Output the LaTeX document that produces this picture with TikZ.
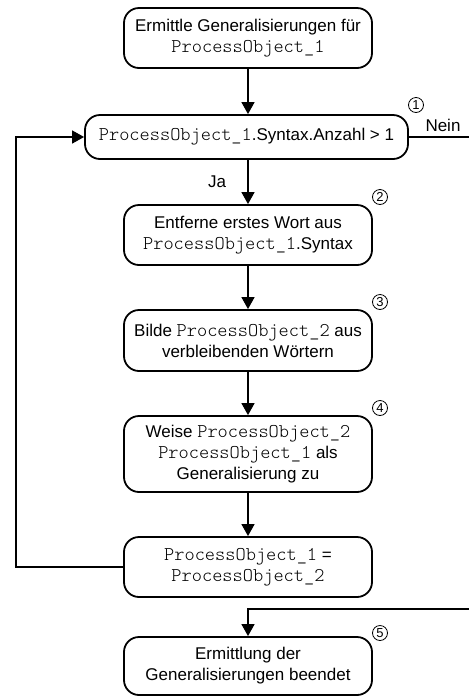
\documentclass[tikz,border=0pt]{standalone}
\usepackage{fontspec}
\setmainfont{Liberation Sans}
% thin serif monospace for the identifiers, widened to Courier's 0.6em advance
\setmonofont[Scale=1.143]{Latin Modern Mono Light}
\usetikzlibrary{arrows.meta}

\tikzset{
  stepbox/.style={draw, line width=1.8pt, rounded corners=15pt, align=center,
    minimum width=248pt, inner sep=0pt, font=\fontsize{17}{21}\selectfont},
  flow/.style={line width=1.3pt, -{Triangle[length=12pt,width=13pt]}},
  plain/.style={line width=1.3pt},
  marker/.style={draw, circle, line width=0.8pt, inner sep=0pt, minimum size=15pt,
    font=\fontsize{13}{13}\selectfont},
  lbl/.style={font=\fontsize{17}{21}\selectfont}
}

\begin{document}
\begin{tikzpicture}[x=1pt,y=-1pt]
\useasboundingbox (0,0) rectangle (469,697);

% process boxes
\node[stepbox, minimum height=60pt] (start) at (248,38)
  {Ermittle Generalisierungen für\\\texttt{ProcessObject\_1}};
\node[stepbox, minimum width=323pt, minimum height=44pt] (check) at (246.5,137)
  {\texttt{ProcessObject\_1}.Syntax.Anzahl > 1};
\node[stepbox, minimum height=60pt] (remove) at (248,235)
  {Entferne erstes Wort aus\\\texttt{ProcessObject\_1}.Syntax};
\node[stepbox, minimum height=61pt] (build) at (248,340.5)
  {Bilde \texttt{ProcessObject\_2} aus\\verbleibenden Wörtern};
\node[stepbox, minimum height=76pt] (assign) at (248,454)
  {Weise \texttt{ProcessObject\_2}\\\texttt{ProcessObject\_1} als\\Generalisierung zu};
\node[stepbox, minimum height=60pt] (swap) at (248,567)
  {\texttt{ProcessObject\_1} =\\\texttt{ProcessObject\_2}};
\node[stepbox, minimum height=58pt] (done) at (248,666)
  {Ermittlung der\\Generalisierungen beendet};

% step markers
\node[marker] (m1) at (416,105) {1};
\node[marker] (m2) at (380,197) {2};
\node[marker] (m3) at (380,302) {3};
\node[marker] (m4) at (380,408) {4};
\node[marker] (m5) at (380,633) {5};

% branch labels
\node[lbl] (ja) at (217,182) {Ja};
\node[lbl] (nein) at (443,125) {Nein};

% free ends at the margins
\coordinate (exitR) at (469,137);
\coordinate (entryR) at (469,609);
\coordinate (loopL) at (16,567);

% connectors
\draw[flow] (start.south) -- (start.south |- check.north);
\draw[flow] (check.south -| remove.north) -- (remove.north);
\draw[flow] (remove) -- (build);
\draw[flow] (build) -- (assign);
\draw[flow] (assign) -- (swap);
\draw[flow] (swap.west) -- (loopL) |- (check.west);
\draw[plain] (check.east) -- (exitR);
\draw[flow] (entryR) -| (done.north);
\end{tikzpicture}
\end{document}
